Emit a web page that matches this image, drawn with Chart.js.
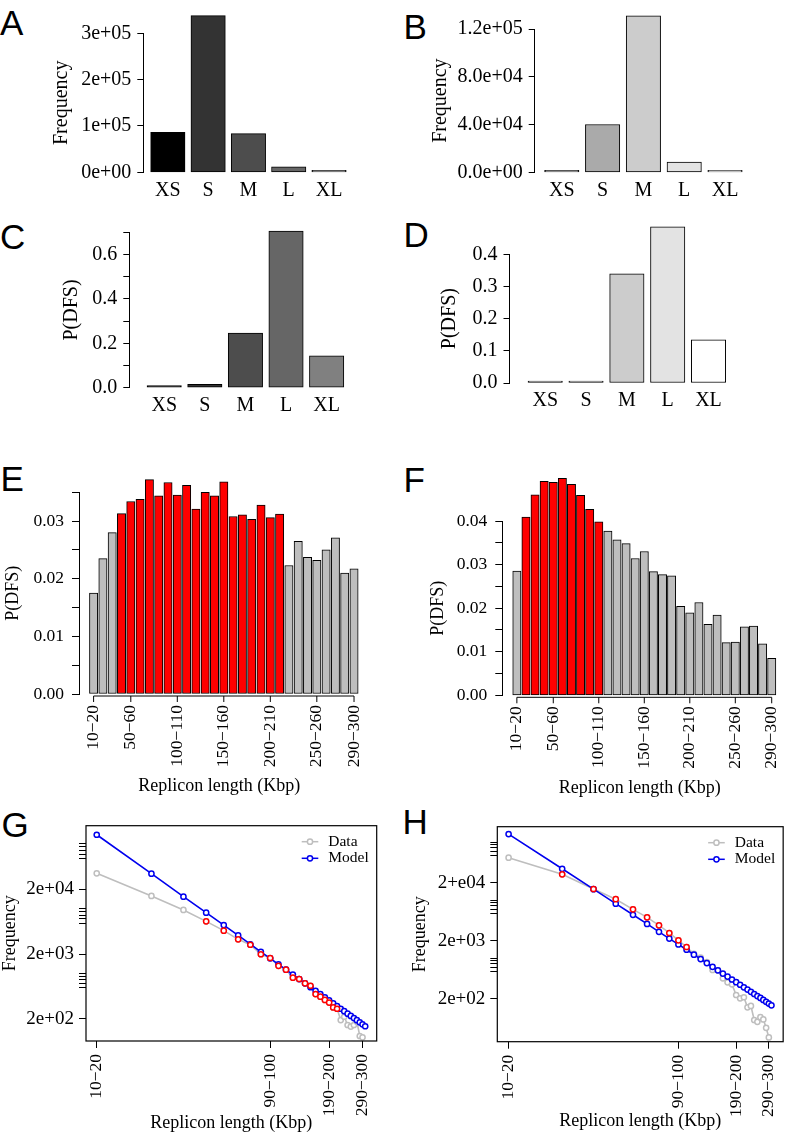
<!DOCTYPE html>
<html>
<head>
<meta charset="utf-8">
<script src="https://cdn.jsdelivr.net/npm/chart.js"></script>
<style>
  body { margin: 0; background: #fff; width: 796px; height: 1134px; position: relative; overflow: hidden; }
  canvas { position: absolute; }
  .tag { position: absolute; font-family: "Liberation Sans", Arial, sans-serif; font-size: 35px; line-height: 35px; color: #000; }
</style>
</head>
<body>
<div class="tag" style="left:0px;top:4.8px">A</div>
<div class="tag" style="left:403.5px;top:8.5px">B</div>
<div class="tag" style="left:0px;top:218.8px">C</div>
<div class="tag" style="left:403.5px;top:217.2px">D</div>
<div class="tag" style="left:0.5px;top:460.5px">E</div>
<div class="tag" style="left:403.5px;top:461.5px">F</div>
<div class="tag" style="left:1.6px;top:807.2px">G</div>
<div class="tag" style="left:402.5px;top:803.5px">H</div>

<canvas id="pA"></canvas>
<canvas id="pB"></canvas>
<canvas id="pC"></canvas>
<canvas id="pD"></canvas>
<canvas id="pE"></canvas>
<canvas id="pF"></canvas>
<canvas id="pG"></canvas>
<canvas id="pH"></canvas>

<script>
// ---- data ----
const sizeClasses = ['XS', 'S', 'M', 'L', 'XL'];

const freqA = [86300, 338000, 83400, 12000, 600];
const freqB = [300, 40000, 131000, 8600, 200];
const pdfsC = [0.001, 0.015, 0.246, 0.706, 0.144];
const pdfsD = [0.001, 0.006, 0.339, 0.485, 0.134];

const colorsAC = ['#000000', '#333333', '#4d4d4d', '#666666', '#808080'];
const colorsBD = ['#999999', '#aaaaaa', '#cccccc', '#e3e3e3', '#ffffff'];

const ticksA = [0, 100000, 200000, 300000];
const tickLabelsA = ['0e+00', '1e+05', '2e+05', '3e+05'];
const ticksB = [0, 40000, 80000, 120000];
const tickLabelsB = ['0.0e+00', '4.0e+04', '8.0e+04', '1.2e+05'];
const ticksC = [0, 0.1, 0.2, 0.3, 0.4, 0.5, 0.6, 0.7];
const tickLabelsC = ['0.0', '', '0.2', '', '0.4', '', '0.6', ''];
const ticksD = [0, 0.1, 0.2, 0.3, 0.4];
const tickLabelsD = ['0.0', '0.1', '0.2', '0.3', '0.4'];

const lengthBins = ['10−20', '20−30', '30−40', '40−50', '50−60', '60−70', '70−80', '80−90', '90−100', '100−110',
  '110−120', '120−130', '130−140', '140−150', '150−160', '160−170', '170−180', '180−190', '190−200', '200−210',
  '210−220', '220−230', '230−240', '240−250', '250−260', '260−270', '270−280', '280−290', '290−300'];

const pdfsE = [0.0175, 0.0235, 0.0280, 0.0313, 0.0334, 0.0338, 0.0372, 0.0344, 0.0367, 0.0345,
  0.0362, 0.0321, 0.0350, 0.0344, 0.0368, 0.0308, 0.0311, 0.0303, 0.0328, 0.0306,
  0.0312, 0.0223, 0.0265, 0.0237, 0.0232, 0.0250, 0.0271, 0.0210, 0.0217];
const pdfsF = [0.0285, 0.0409, 0.0460, 0.0491, 0.0489, 0.0498, 0.0484, 0.0459, 0.0427, 0.0398,
  0.0377, 0.0357, 0.0348, 0.0314, 0.0330, 0.0284, 0.0277, 0.0274, 0.0204, 0.0189,
  0.0213, 0.0163, 0.0184, 0.0121, 0.0122, 0.0157, 0.0159, 0.0118, 0.0085];

const redRangeE = ['40−50', '210−220'];
const redRangeF = ['20−30', '100−110'];

const ticksE = [0, 0.005, 0.01, 0.015, 0.02, 0.025, 0.03, 0.035];
const tickLabelsE = ['0.00', '', '0.01', '', '0.02', '', '0.03', ''];
const ticksF = [0, 0.005, 0.01, 0.015, 0.02, 0.025, 0.03, 0.035, 0.04];
const tickLabelsF = ['0.00', '', '0.01', '', '0.02', '', '0.03', '', '0.04'];
const binTicksEF = ['10−20', '50−60', '100−110', '150−160', '200−210', '250−260', '290−300'];

const dataG = [35300, 15800, 9600, 6400, 4600, 3380, 2790, 1990, 1740, 1320,
  1150, 865, 826, 709, 650, 484, 441, 393, 357, 301,
  287, 192, 216, 161, 152, 161, 181, 109, 104];
const modelG = [139000, 34800, 15400, 8700, 5600, 3900, 2840, 2170, 1720, 1390,
  1150, 965, 823, 709, 618, 543, 481, 429, 385, 348,
  315, 287, 263, 241, 222, 206, 191, 177, 165, 154];
const dataH = [54000, 27900, 15600, 10400, 6960, 5060, 3690, 2720, 2030, 1560,
  1190, 1020, 859, 625, 615, 450, 384, 354, 232, 203,
  212, 142, 150, 86, 80, 96, 88, 63, 43];
const modelH = [138000, 34800, 15500, 8700, 5600, 3900, 2850, 2180, 1730, 1400,
  1150, 965, 823, 709, 618, 543, 481, 429, 385, 348,
  315, 287, 263, 241, 222, 206, 191, 177, 165, 154];

const binTicksGH = ['10−20', '90−100', '190−200', '290−300'];
const logMajor = [200, 2000, 20000];
const logLabelsG = ['2e+02', '2e+03', '2e+04'];
const logLabelsH = ['2e+02', '2e+03', '2+e04'];
const logMinor = [600, 700, 800, 900, 1000, 6000, 7000, 8000, 9000, 10000, 60000, 70000, 80000, 90000, 100000];

// ---- helpers ----
const SERIF = '"Liberation Serif", "Times New Roman", serif';
const GREY = '#bebebe', RED = '#ff0000', BLUE = '#0000ee';

// size the canvas and work out padding so the plot area lands on `area`
function frame(id, box, area, yTitleX, xTitleY, titleSize) {
  const c = document.getElementById(id);
  c.width = box[2]; c.height = box[3];
  c.style.left = box[0] + 'px'; c.style.top = box[1] + 'px';
  c.style.width = box[2] + 'px'; c.style.height = box[3] + 'px';
  const pl = yTitleX - box[0] - titleSize / 2;
  const pb = xTitleY ? box[1] + box[3] - xTitleY - titleSize / 2 : 0;
  return {
    ctx: c,
    padding: { left: pl, top: area[1] - box[1], right: box[0] + box[2] - area[2], bottom: pb },
    yWidth: area[0] - box[0] - pl,
    xHeight: box[1] + box[3] - pb - area[3]
  };
}

// R style x axis: line from first to last tick, ticks pointing down
const rAxisX = {
  id: 'rAxisX',
  afterDraw(chart, args, o) {
    if (!o.on) return;
    const { ctx, chartArea } = chart;
    const xs = chart.scales.x;
    const y = chartArea.bottom + o.gap;
    const px = xs.ticks.map(t => xs.getPixelForValue(t.value));
    ctx.save();
    ctx.strokeStyle = '#000'; ctx.lineWidth = 1;
    ctx.beginPath();
    ctx.moveTo(px[0], y); ctx.lineTo(px[px.length - 1], y);
    px.forEach(p => { ctx.moveTo(p, y); ctx.lineTo(p, y + o.len); });
    ctx.stroke();
    ctx.restore();
  }
};

const rBox = {
  id: 'rBox',
  afterDraw(chart) {
    const { ctx, chartArea: a } = chart;
    ctx.save();
    ctx.strokeStyle = '#000'; ctx.lineWidth = 1.2;
    ctx.strokeRect(a.left, a.top, a.right - a.left, a.bottom - a.top);
    ctx.restore();
  }
};

const rLegend = {
  id: 'rLegend',
  afterDraw(chart) {
    const { ctx, chartArea: a } = chart;
    ctx.save();
    ctx.font = '15.5px ' + SERIF;
    ctx.textBaseline = 'middle';
    chart.data.datasets.filter(d => d.label).forEach((d, k) => {
      const y = a.top + 16 + k * 16.6;
      const x0 = a.right - 75, x1 = a.right - 58.4;
      ctx.strokeStyle = d.borderColor; ctx.lineWidth = 1.5;
      ctx.beginPath(); ctx.moveTo(x0, y); ctx.lineTo(x1, y); ctx.stroke();
      ctx.fillStyle = '#fff';
      ctx.beginPath(); ctx.arc((x0 + x1) / 2, y, 2.6, 0, Math.PI * 2); ctx.fill(); ctx.stroke();
      ctx.fillStyle = '#000';
      ctx.fillText(d.label, a.right - 48.4, y);
    });
    ctx.restore();
  }
};

function baseOptions(f) {
  return {
    responsive: false, animation: false, events: [], devicePixelRatio: 1,
    layout: { padding: f.padding, autoPadding: false },
    plugins: { legend: { display: false }, tooltip: { enabled: false }, title: { display: false } }
  };
}

function yAxis(f, values, labels, title, size, tickLen, pad, titleSize) {
  return {
    type: 'linear',
    min: values[0], max: values[values.length - 1],
    afterFit: s => { s.width = f.yWidth; },
    afterBuildTicks: s => { s.ticks = values.map(v => ({ value: v })); },
    ticks: { callback: (v, i) => labels[i], font: { family: SERIF, size: size }, color: '#000', padding: pad, autoSkip: false },
    grid: { drawOnChartArea: false, color: '#000', tickLength: tickLen, lineWidth: 1 },
    border: { display: true, color: '#000', width: 1 },
    title: { display: true, text: title, color: '#000', padding: 0, font: { family: SERIF, size: titleSize, lineHeight: 1 } }
  };
}

// panels A-D: grouped size classes
function classPanel(id, box, area, yTitleX, xRange, values, colors, tks, tkl, title) {
  const f = frame(id, box, area, yTitleX, null, 20);
  const opt = baseOptions(f);
  opt.scales = {
    x: {
      type: 'linear', min: xRange[0], max: xRange[1], offset: false,
      afterFit: s => { s.height = f.xHeight; },
      afterBuildTicks: s => { s.ticks = sizeClasses.map((c, i) => ({ value: i + 1 })); },
      ticks: { callback: (v, i) => sizeClasses[i], font: { family: SERIF, size: 20 }, color: '#000', padding: 6, maxRotation: 0, autoSkip: false },
      grid: { display: false, drawTicks: false, offset: false },
      border: { display: false }
    },
    y: yAxis(f, tks, tkl, title, 20, 6, 6, 20)
  };
  new Chart(f.ctx, {
    type: 'bar',
    data: { datasets: [{
      data: values.map((v, i) => ({ x: i + 1, y: v })),
      backgroundColor: colors, borderColor: '#000', borderWidth: 1,
      borderSkipped: false, barThickness: 34.4, minBarLength: 2, clip: false
    }] },
    options: opt
  });
}

// panels E-F: length bins
function binPanel(id, box, area, yTitleX, xTitleY, xRange, values, redRange, tks, tkl) {
  const f = frame(id, box, area, yTitleX, xTitleY, 18);
  const r0 = lengthBins.indexOf(redRange[0]), r1 = lengthBins.indexOf(redRange[1]);
  const opt = baseOptions(f);
  opt.plugins.rAxisX = { on: true, gap: 2, len: 6 };
  opt.scales = {
    x: {
      type: 'linear', min: xRange[0], max: xRange[1], offset: false,
      afterFit: s => { s.height = f.xHeight; },
      afterBuildTicks: s => { s.ticks = binTicksEF.map(b => ({ value: lengthBins.indexOf(b) + 1 })); },
      ticks: { callback: (v, i) => binTicksEF[i], font: { family: SERIF, size: 17.5 }, color: '#000', padding: 3, minRotation: 90, maxRotation: 90, autoSkip: false },
      grid: { display: true, offset: false, drawOnChartArea: false, drawTicks: true, tickLength: 8, color: 'rgba(0,0,0,0)' },
      border: { display: false },
      title: { display: true, text: 'Replicon length (Kbp)', color: '#000', padding: 0, font: { family: SERIF, size: 18, lineHeight: 1 } }
    },
    y: yAxis(f, tks, tkl, 'P(DFS)', 17.5, 7, 8, 18)
  };
  new Chart(f.ctx, {
    type: 'bar',
    data: { datasets: [{
      data: values.map((v, i) => ({ x: i + 1, y: v })),
      backgroundColor: values.map((v, i) => (i >= r0 && i <= r1 ? RED : GREY)),
      borderColor: '#000', borderWidth: 1, borderSkipped: false,
      barThickness: 8.3, clip: false
    }] },
    options: opt
  });
}

// panels G-H: log-log data vs model
function fitPanel(id, box, area, yTitleX, xTitleY, xRange, yRange, data, model, redRange, majorLabels) {
  const f = frame(id, box, area, yTitleX, xTitleY, 18);
  const r0 = lengthBins.indexOf(redRange[0]), r1 = lengthBins.indexOf(redRange[1]);
  const yTicks = logMajor.concat(logMinor).sort((a, b) => a - b);
  const opt = baseOptions(f);
  opt.scales = {
    x: {
      type: 'logarithmic', min: xRange[0], max: xRange[1],
      afterFit: s => { s.height = f.xHeight; },
      afterBuildTicks: s => { s.ticks = binTicksGH.map(b => ({ value: lengthBins.indexOf(b) + 1 })); },
      ticks: { callback: (v, i) => binTicksGH[i], font: { family: SERIF, size: 17.5 }, color: '#000', padding: 6, minRotation: 90, maxRotation: 90, autoSkip: false },
      grid: { drawOnChartArea: false, color: '#000', tickLength: 7 },
      border: { display: false },
      title: { display: true, text: 'Replicon length (Kbp)', color: '#000', padding: 0, font: { family: SERIF, size: 18, lineHeight: 1 } }
    },
    y: {
      type: 'logarithmic', min: yRange[0], max: yRange[1],
      afterFit: s => { s.width = f.yWidth; },
      afterBuildTicks: s => { s.ticks = yTicks.map(v => ({ value: v })); },
      ticks: {
        callback: v => { const k = logMajor.indexOf(v); return k >= 0 ? majorLabels[k] : ''; },
        font: { family: SERIF, size: 19 }, color: '#000', padding: 5, autoSkip: false
      },
      grid: { drawOnChartArea: false, color: '#000', tickLength: 7 },
      border: { display: false },
      title: { display: true, text: 'Frequency', color: '#000', padding: 0, font: { family: SERIF, size: 18, lineHeight: 1 } }
    }
  };
  const pts = arr => arr.map((v, i) => ({ x: i + 1, y: v }));
  const common = { borderWidth: 1.6, pointRadius: 2.6, pointBorderWidth: 1.5, pointBackgroundColor: '#fff', tension: 0 };
  new Chart(f.ctx, {
    type: 'line',
    data: { datasets: [
      Object.assign({ label: 'Data', data: pts(data), borderColor: GREY, pointBorderColor: GREY, order: 3 }, common),
      Object.assign({ label: 'Model', data: pts(model), borderColor: BLUE, pointBorderColor: BLUE, order: 2 }, common),
      Object.assign({}, common, { label: '', data: pts(data).filter((p, i) => i >= r0 && i <= r1), showLine: false, borderColor: RED, pointBorderColor: RED, order: 1 })
    ] },
    options: opt,
    plugins: [rBox, rLegend]
  });
}

Chart.register(rAxisX);

classPanel('pA', [0, 0, 398, 210], [143.3, 33.3, 353.2, 172.3], 62, [0.391, 5.6], freqA, colorsAC, ticksA, tickLabelsA, 'Frequency');
classPanel('pB', [398, 0, 398, 210], [534.7, 29, 749.5, 172.3], 440.5, [0.336, 5.6], freqB, colorsBD, ticksB, tickLabelsB, 'Frequency');
classPanel('pC', [0, 205, 398, 220], [129.3, 232.3, 351, 387.7], 72, [0.14, 5.6], pdfsC, colorsAC, ticksC, tickLabelsC, 'P(DFS)');
classPanel('pD', [398, 205, 398, 220], [509.5, 254.3, 733, 383], 450, [0.125, 5.6], pdfsD, colorsBD, ticksD, tickLabelsD, 'P(DFS)');

binPanel('pE', [0, 440, 398, 365], [79, 492.3, 359.6, 694], 13.5, 786.7, [-0.57, 29.6], pdfsE, redRangeE, ticksE, tickLabelsE);
binPanel('pF', [398, 440, 398, 365], [502.3, 521, 781.7, 695.3], 438, 788.3, [-0.6, 29.6], pdfsF, redRangeF, ticksF, tickLabelsF);

fitPanel('pG', [0, 800, 398, 334], [86, 825.7, 376.7, 1041], 10, 1123.3, [0.873, 34.7], [91.2, 191600], dataG, modelG, redRangeE, logLabelsG);
fitPanel('pH', [398, 800, 398, 334], [497.3, 826.7, 793, 1041.7], 420.5, 1121.7, [0.864, 34.9], [36.3, 185000], dataH, modelH, redRangeF, logLabelsH);
</script>
</body>
</html>
